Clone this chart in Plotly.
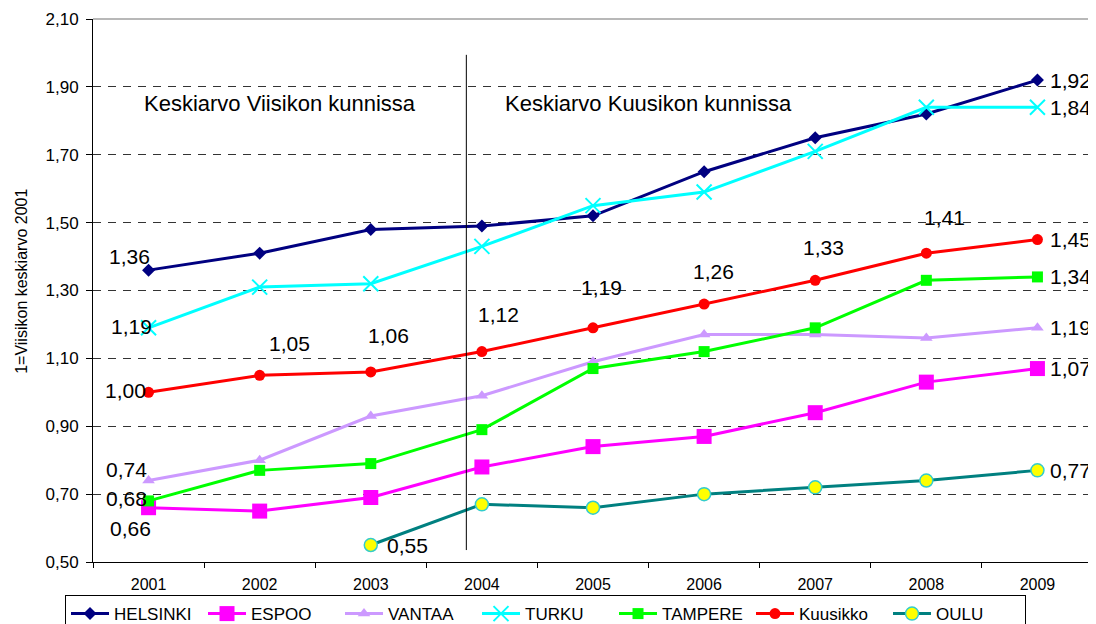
import plotly.graph_objects as go

years = ["2001", "2002", "2003", "2004", "2005", "2006", "2007", "2008", "2009"]

helsinki = [1.36, 1.41, 1.48, 1.49, 1.52, 1.65, 1.75, 1.82, 1.92]
espoo = [0.66, 0.65, 0.69, 0.78, 0.84, 0.87, 0.94, 1.03, 1.07]
vantaa = [0.74, 0.80, 0.93, 0.99, 1.09, 1.17, 1.17, 1.16, 1.19]
turku = [1.19, 1.31, 1.32, 1.43, 1.55, 1.59, 1.71, 1.84, 1.84]
tampere = [0.68, 0.77, 0.79, 0.89, 1.07, 1.12, 1.19, 1.33, 1.34]
kuusikko = [1.00, 1.05, 1.06, 1.12, 1.19, 1.26, 1.33, 1.41, 1.45]
oulu = [None, None, 0.55, 0.67, 0.66, 0.70, 0.72, 0.74, 0.77]

y_title = "1=Viisikon keskiarvo 2001"
note_left = "Keskiarvo Viisikon kunnissa"
note_right = "Keskiarvo Kuusikon kunnissa"

FONT = "Liberation Sans, Arial, sans-serif"

series = [
    dict(name="HELSINKI", y=helsinki, color="#000080",
         marker=dict(symbol="diamond", size=10, color="#000080")),
    dict(name="ESPOO", y=espoo, color="#FF00FF",
         marker=dict(symbol="square", size=15, color="#FF00FF")),
    dict(name="VANTAA", y=vantaa, color="#CC99FF",
         marker=dict(symbol="triangle-up", size=11, color="#CC99FF")),
    dict(name="TURKU", y=turku, color="#00FFFF",
         marker=dict(symbol="x-thin", size=15, color="#00FFFF",
                     line=dict(color="#00FFFF", width=2))),
    dict(name="TAMPERE", y=tampere, color="#00FF00",
         marker=dict(symbol="square", size=11, color="#00FF00")),
    dict(name="Kuusikko", y=kuusikko, color="#FF0000",
         marker=dict(symbol="circle", size=11, color="#FF0000")),
    dict(name="OULU", y=oulu, color="#008080",
         marker=dict(symbol="circle", size=13, color="#FFFF00",
                     line=dict(color="#33CCCC", width=1.5))),
]

fig = go.Figure()
for s in series:
    fig.add_trace(go.Scatter(
        x=years, y=s["y"], name=s["name"], mode="lines+markers",
        line=dict(color=s["color"], width=3), marker=s["marker"],
        connectgaps=False,
    ))

# data labels: (series values, index, xanchor, xshift, yshift)
R = 12
label_specs = [
    (helsinki, 0, "center", -19, 14),
    (helsinki, 8, "left", R, 0),
    (turku, 0, "center", -17, 1),
    (turku, 8, "left", R, 0),
    (kuusikko, 0, "center", -23, 2),
    (kuusikko, 1, "center", 30, 32),
    (kuusikko, 2, "center", 18, 36),
    (kuusikko, 3, "center", 17, 37),
    (kuusikko, 4, "center", 8, 40),
    (kuusikko, 5, "center", 9, 33),
    (kuusikko, 6, "center", 8, 33),
    (kuusikko, 7, "center", 18, 36),
    (kuusikko, 8, "left", R, 0),
    (vantaa, 0, "center", -22, 11),
    (vantaa, 8, "left", R, 0),
    (tampere, 0, "center", -22, 2),
    (tampere, 8, "left", R, 0),
    (espoo, 0, "center", -18, -21),
    (espoo, 8, "left", R, 0),
    (oulu, 2, "left", 15, 0),
    (oulu, 8, "left", R, 0),
]
for vals, i, xa, xs, ys in label_specs:
    fig.add_annotation(
        x=i, y=vals[i], xref="x", yref="y",
        text=f"{vals[i]:.2f}".replace(".", ","),
        showarrow=False, xanchor=xa, yanchor="middle",
        xshift=xs, yshift=ys, borderpad=0,
        font=dict(family=FONT, size=21, color="black"),
    )

fig.add_annotation(x=0.049, y=0.845, xref="paper", yref="paper",
                   text=note_left, showarrow=False, xanchor="left",
                   yanchor="middle", font=dict(family=FONT, size=22, color="black"))
fig.add_annotation(x=0.41, y=0.845, xref="paper", yref="paper",
                   text=note_right, showarrow=False, xanchor="left",
                   yanchor="middle", font=dict(family=FONT, size=22, color="black"))
fig.add_annotation(x=-0.071, y=0.516, xref="paper", yref="paper",
                   text=y_title, showarrow=False, textangle=-90,
                   xanchor="center", yanchor="middle",
                   font=dict(family=FONT, size=16, color="black"))

# divider between 2003 and 2004
fig.add_shape(type="line", xref="x", yref="paper", x0=2.86, x1=2.86,
              y0=0.022, y1=0.934, line=dict(color="black", width=1))
# plot-area border (right and top)
fig.add_shape(type="line", xref="paper", yref="paper", x0=1, x1=1, y0=0, y1=1,
              line=dict(color="#808080", width=1.5), layer="below")
fig.add_shape(type="line", xref="paper", yref="paper", x0=0, x1=1, y0=1, y1=1,
              line=dict(color="#A0A0A0", width=1.5), layer="below")

fig.update_layout(
    width=1088, height=616,
    margin=dict(l=85, r=3, t=11, b=62, autoexpand=False),
    paper_bgcolor="white", plot_bgcolor="white",
    separators=", ",
    font=dict(family=FONT, color="black"),
    showlegend=True,
    legend=dict(orientation="h", xref="container", yref="container",
                x=0.0524, xanchor="left", y=0.047, yanchor="top",
                bordercolor="black", borderwidth=1,
                bgcolor="white", font=dict(family=FONT, size=17, color="black"),
                itemwidth=38, entrywidth=84, entrywidthmode="pixels",
                tracegroupgap=0),
    xaxis=dict(type="category", range=[-0.5, 8.5], showgrid=False,
               showline=True, linecolor="black", linewidth=1,
               ticks="outside", tickson="boundaries", ticklen=5,
               tickcolor="black", ticklabelstandoff=8,
               tickfont=dict(family=FONT, size=16, color="black"),
               zeroline=False),
    yaxis=dict(range=[0.5, 2.1], dtick=0.2, tick0=0.5, tickformat=".2f",
               showgrid=True, gridcolor="#333333", griddash="8px,7px",
               gridwidth=1, showline=True, linecolor="black", linewidth=1,
               ticks="outside", ticklen=6, tickcolor="black",
               ticklabelstandoff=4,
               tickfont=dict(family=FONT, size=17, color="black"),
               zeroline=False),
)

fig.write_html("out.html")
